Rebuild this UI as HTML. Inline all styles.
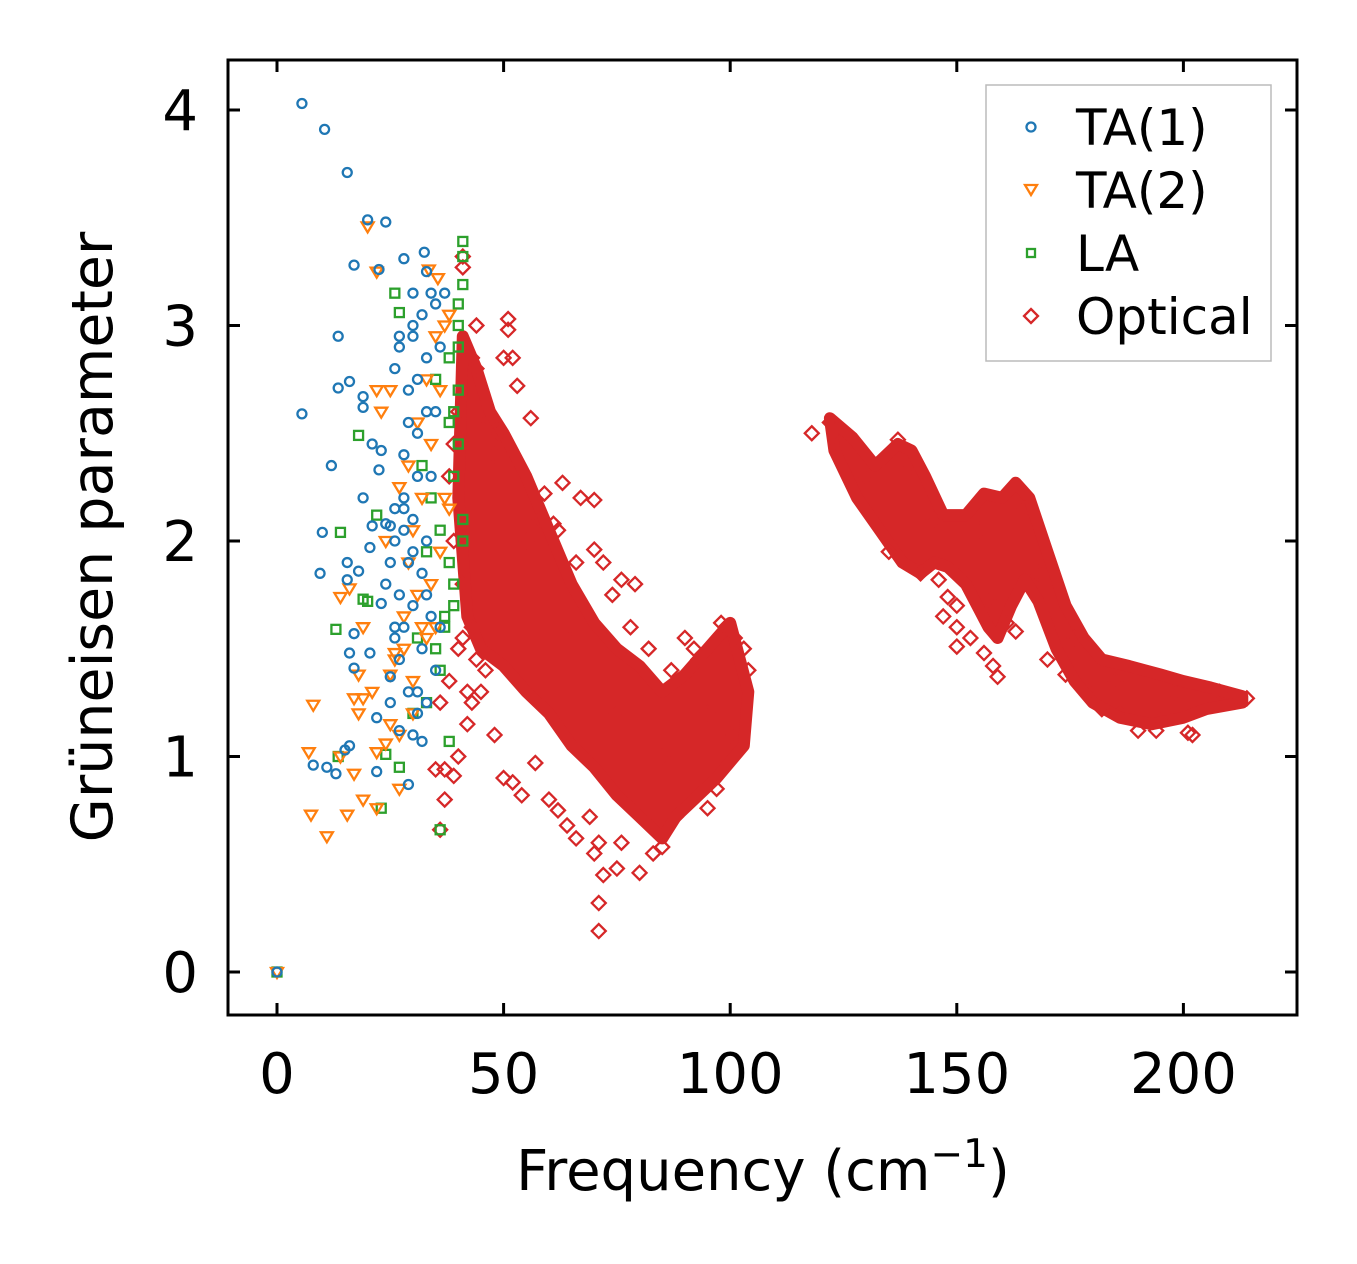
<!DOCTYPE html>
<html><head><meta charset="utf-8"><style>
html,body{margin:0;padding:0;background:#fff;}
svg{display:block;font-family:"DejaVu Sans","Liberation Sans",sans-serif;}
</style></head><body>
<svg id="chart" width="1357" height="1264" viewBox="0 0 1357 1264" xmlns="http://www.w3.org/2000/svg">
<rect x="0" y="0" width="1357" height="1264" fill="#fff"/>
<g id="marks"></g>
<rect x="228" y="60" width="1069" height="955" fill="none" stroke="#000" stroke-width="3"/>
<g id="axes"></g>
<text x="763" y="1190" font-size="56" text-anchor="middle">Frequency (cm<tspan font-size="39" dy="-23">−1</tspan><tspan dy="23">)</tspan></text>
<text transform="translate(112,537) rotate(-90)" font-size="57" text-anchor="middle">Grüneisen parameter</text>
<g>
<rect x="986" y="85" width="285" height="276" fill="#fff" stroke="#bbb" stroke-width="1.5"/>
<circle cx="1031" cy="127" r="4.5" fill="none" stroke="#1f77b4" stroke-width="2.3"/>
<text x="1076" y="145" font-size="50">TA(1)</text>
<path d="M1025,185 L1037,185 L1031,195 Z" fill="none" stroke="#ff7f0e" stroke-width="2.3"/>
<text x="1076" y="208" font-size="50">TA(2)</text>
<rect x="1027" y="249" width="8" height="8" fill="none" stroke="#2ca02c" stroke-width="2.3"/>
<text x="1076" y="271" font-size="50">LA</text>
<path d="M1031,309 L1038,316 L1031,323 L1024,316 Z" fill="none" stroke="#d62728" stroke-width="2.3"/>
<text x="1076" y="334" font-size="50">Optical</text>
</g>
</svg>
<script>
const xTicks=[0,50,100,150,200];
const yTicks=[0,1,2,3,4];
const ta1X=[0,5.5,10.5,15.5,20,24,17,22.5,28,32.5,13.5,16,13.5,19,19,5.5,12,21,23,22.5,19,21,10,9.5,15.5,18,15.5,20.5,25,23,16,17,17,20.5,22,15,16,8,11,13,22,29,30,32,27,25,25,26,27,29,30,31,29,31,30,30,33,35,37,36,33,35,34,33,33,32,31,26,27,28,28,25,24,26,28,30,32,34,36,27,29,31,33,35,26,28,30,24,26,28,31,33,29,27,30,32,34];
const ta1Y=[0,4.03,3.91,3.71,3.49,3.48,3.28,3.26,3.31,3.34,2.95,2.74,2.71,2.67,2.62,2.59,2.35,2.45,2.42,2.33,2.2,2.07,2.04,1.85,1.9,1.86,1.82,1.97,2.07,1.71,1.48,1.41,1.57,1.48,1.18,1.03,1.05,0.96,0.95,0.92,0.93,0.87,1.1,1.07,1.12,1.25,1.37,1.6,1.75,1.9,2.1,2.3,2.55,2.75,3.0,3.15,3.25,3.1,3.15,2.9,2.85,2.6,2.3,2.0,1.75,1.5,1.3,2.8,2.95,2.4,2.15,1.9,2.08,2.15,2.05,1.95,1.85,1.65,1.6,1.45,1.3,1.2,1.25,1.4,1.55,1.6,1.7,1.8,2.0,2.2,2.5,2.6,2.7,2.9,2.95,3.05,3.15];
const ta2X=[0,20,22,33.5,35.5,25,22,23,14,16,19,18,8,7,7.5,11,15.5,17,19,22,27,14,18,17,19,21,22,24,25,26,28,29,30,32,34,36,38,33,35,30,31,27,24,37,38,26,28,30,32,34,36,29,31,33,35,37,25,27];
const ta2Y=[0,3.46,3.25,3.26,3.22,2.7,2.7,2.6,1.74,1.78,1.6,1.38,1.24,1.02,0.73,0.63,0.73,0.92,0.8,0.76,0.85,1.0,1.2,1.27,1.27,1.3,1.02,1.06,1.38,1.48,1.65,1.9,2.05,2.2,2.45,2.7,3.05,1.55,1.6,1.2,1.75,2.25,2.0,2.2,2.15,1.45,1.5,1.35,1.6,1.8,1.95,2.35,2.55,2.75,2.95,3.0,1.15,1.1];
const laX=[0,41,41,26,27,40,41,40,38,18,14,22,13,19,20,13.5,24,27,23,36,38,37,39,41,40,39,35,34,33,31,30,32,36,39,40,38,37,39,41,35,33,36,38,40];
const laY=[0,3.39,3.32,3.15,3.06,3.1,3.19,3.0,2.85,2.49,2.04,2.12,1.59,1.73,1.72,1.0,1.01,0.95,0.76,0.66,1.07,1.6,1.7,2.0,2.45,2.6,2.75,2.2,1.95,1.55,1.2,2.35,2.05,2.3,2.7,1.9,1.65,1.8,2.1,1.5,1.25,1.4,2.55,2.9];
const optX=[41,41,44,51,51,52,50,53,56,63,67,70,59,61,70,72,76,79,90,93,98,101,104,40,38,36,37,35,37,36,39,40,42,48,50,52,54,57,60,62,64,66,69,70,71,72,71,71,75,76,80,83,85,88,95,97,100,45,44,46,48,55,65,75,85,95,122,137,146,148,147,150,150,153,156,158,159,163,161,157,150,174,179,182,186,190,194,201,202,212,214,196,170,176,135,142,58,62,66,74,78,82,87,92,99,103,47,49,43,118,124,130,140,145,155,165,168,185,198,208,38,39,41,43,44,46,42,40,39,41,43];
const optY=[3.32,3.27,3.0,3.03,2.98,2.85,2.85,2.72,2.57,2.27,2.2,2.19,2.22,2.08,1.96,1.9,1.82,1.8,1.55,1.45,1.62,1.55,1.4,1.5,1.35,1.25,0.94,0.94,0.8,0.66,0.91,1.0,1.15,1.1,0.9,0.88,0.82,0.97,0.8,0.75,0.68,0.62,0.72,0.55,0.6,0.45,0.32,0.19,0.48,0.6,0.46,0.55,0.58,0.72,0.76,0.85,1.1,1.3,2.8,2.6,2.4,2.0,1.6,1.2,1.0,1.2,2.55,2.47,1.82,1.74,1.65,1.6,1.51,1.55,1.48,1.42,1.37,1.58,1.62,1.73,1.7,1.38,1.3,1.22,1.2,1.12,1.12,1.11,1.1,1.27,1.27,1.2,1.45,1.55,1.95,1.85,2.1,2.05,1.9,1.75,1.6,1.5,1.4,1.5,1.6,1.5,2.55,2.5,2.85,2.5,2.45,2.3,2.35,2.1,2.05,2.15,1.85,1.35,1.3,1.3,2.3,2.0,1.8,1.6,1.45,1.4,1.3,2.6,2.45,1.55,1.25];
// dense core regions (boundary of solid overlapping-marker areas)
const coreAX=[41,44,47,50,55,60,65,70,75,80,85,90,95,100,104,103,97,92,88,85,80,75,70,65,60,55,50,45,42,40];
const coreAY=[2.95,2.8,2.6,2.5,2.3,2.05,1.8,1.62,1.5,1.42,1.3,1.38,1.5,1.62,1.3,1.05,0.9,0.8,0.72,0.62,0.72,0.82,0.95,1.05,1.2,1.3,1.42,1.5,1.65,2.2];
const coreBX=[122,127,132,137,140,143,147,152,156,160,163,166,170,174,178,182,188,195,200,206,213,213,205,200,193,186,180,176,172,168,165,162,159,157,155,152,148,145,142,138,133,128,123];
const coreBY=[2.57,2.48,2.35,2.45,2.42,2.3,2.12,2.12,2.22,2.2,2.27,2.2,1.95,1.7,1.55,1.45,1.42,1.38,1.35,1.32,1.28,1.25,1.22,1.18,1.15,1.18,1.25,1.35,1.5,1.72,1.82,1.7,1.55,1.6,1.68,1.8,1.88,1.9,1.85,1.9,2.05,2.2,2.42];

const NS="http://www.w3.org/2000/svg";
const sx=v=>277+v*4.532;
const sy=v=>972-v*215.5;
const marks=document.getElementById('marks');
const axes=document.getElementById('axes');
function mk(tag,attrs,parent){const e=document.createElementNS(NS,tag);for(const k in attrs)e.setAttribute(k,attrs[k]);parent.appendChild(e);return e;}
const RED='#d62728';
function poly(xs,ys,name){
  const pts=xs.map((x,i)=>sx(x).toFixed(1)+','+sy(ys[i]).toFixed(1)).join(' ');
  const p=mk('polygon',{points:pts,fill:RED,stroke:RED,'stroke-width':12,'stroke-linejoin':'round'},marks);
  
  
}
poly(coreAX,coreAY,'optical-dense-core-low');
poly(coreBX,coreBY,'optical-dense-core-high');
optX.forEach((x,i)=>{const cx=sx(x),cy=sy(optY[i]);
  const e=mk('path',{d:`M${cx},${cy-7} L${cx+7},${cy} L${cx},${cy+7} L${cx-7},${cy} Z`,fill:'none',stroke:RED,'stroke-width':2.3},marks);
  
  
});
laX.forEach((x,i)=>{const cx=sx(x),cy=sy(laY[i]);
  const e=mk('rect',{x:cx-4.5,y:cy-4.5,width:9,height:9,fill:'none',stroke:'#2ca02c','stroke-width':2.3},marks);
  
  
});
ta2X.forEach((x,i)=>{const cx=sx(x),cy=sy(ta2Y[i]);
  const e=mk('path',{d:`M${cx-6},${cy-4} L${cx+6},${cy-4} L${cx},${cy+6} Z`,fill:'none',stroke:'#ff7f0e','stroke-width':2.3},marks);
  
  
});
ta1X.forEach((x,i)=>{
  const e=mk('circle',{cx:sx(x),cy:sy(ta1Y[i]),r:4.5,fill:'none',stroke:'#1f77b4','stroke-width':2.3},marks);
  
  
});
xTicks.forEach(v=>{const x=sx(v);
  const t1=mk('line',{x1:x,y1:1015,x2:x,y2:1003,stroke:'#000','stroke-width':3},axes);
  
  
  const t2=mk('line',{x1:x,y1:60,x2:x,y2:72,stroke:'#000','stroke-width':3},axes);
  
  
  const l=mk('text',{x:x,y:1093,'font-size':56,'text-anchor':'middle'},axes);l.textContent=v;
  
  
});
yTicks.forEach(v=>{const y=sy(v);
  const t1=mk('line',{x1:228,y1:y,x2:240,y2:y,stroke:'#000','stroke-width':3},axes);
  
  
  const t2=mk('line',{x1:1285,y1:y,x2:1297,y2:y,stroke:'#000','stroke-width':3},axes);
  
  
  const l=mk('text',{x:198,y:y+20,'font-size':56,'text-anchor':'end'},axes);l.textContent=v;
  
  
});
</script>
</body></html>
